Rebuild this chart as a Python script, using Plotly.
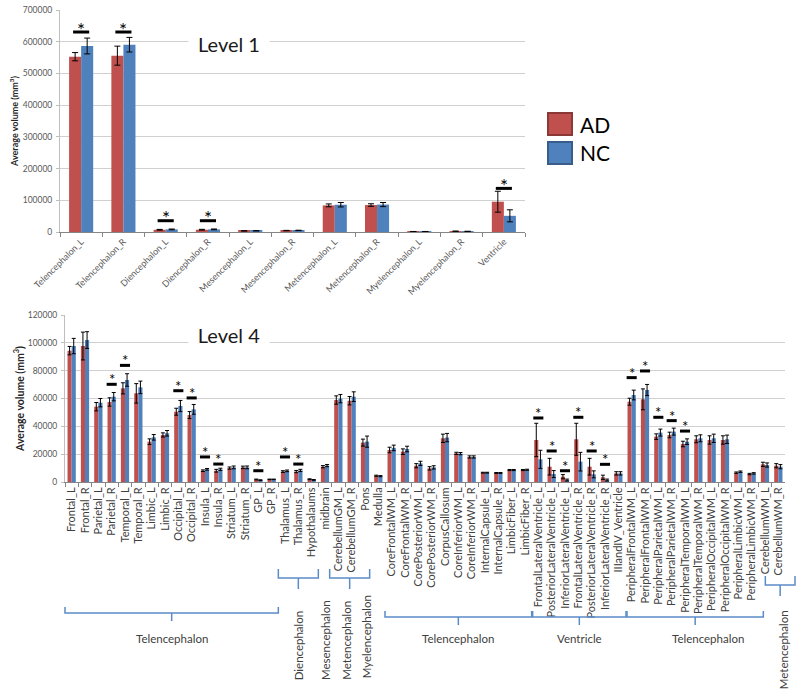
import plotly.graph_objects as go

W, H = 800, 697
FONT = "Lato"
RED = "#C0504D"
BLUE = "#4F81BD"

# ---------------- Level 1 data ----------------
l1_cats = ["Telencephalon_L", "Telencephalon_R", "Diencephalon_L", "Diencephalon_R",
           "Mesencephalon_L", "Mesencephalon_R", "Metencephalon_L", "Metencephalon_R",
           "Myelencephalon_L", "Myelencephalon_R", "Ventricle"]
l1_ad = [552700, 556000, 7000, 7200, 3500, 4500, 84000, 85000, 1500, 2500, 95500]
l1_ad_err = [13000, 30000, 1200, 1200, 400, 600, 4500, 4000, 200, 300, 33000]
l1_nc = [586500, 590600, 8200, 8300, 3800, 5000, 86000, 86500, 1500, 2000, 51000]
l1_nc_err = [25000, 23000, 1200, 1200, 400, 600, 7000, 6500, 200, 300, 19000]
l1_sig = [630600, 630600, 35600, 35600, None, None, None, None, None, None, 137500]

# ---------------- Level 4 data ----------------
l4_cats = ["Frontal_L", "Frontal_R", "Parietal_L", "Parietal_R", "Temporal_L", "Temporal_R",
           "Limbic_L", "Limbic_R", "Occipital_L", "Occipital_R", "Insula_L", "Insula_R",
           "Striatum_L", "Striatum_R", "GP_L", "GP_R", "Thalamus_L", "Thalamus_R",
           "Hypothalaums", "midbrain", "CerebellumGM_L", "CerebellumGM_R", "Pons", "Medulla",
           "CoreFrontalWM_L", "CoreFrontalWM_R", "CorePosteriorWM_L", "CorePosteriorWM_R",
           "CorpusCallosum", "CoreInferiorWM_L", "CoreInferiorWM_R", "InternalCapsule_L",
           "InternalCapsule_R", "LimbicFiber_L", "LimbicFiber_R", "FrontalLateralVentricle_L",
           "PosteriorLateralVentricle_L", "InferiorLateralVentricle_L",
           "FrontalLateralVentricle_R", "PosteriorLateralVentricle_R",
           "InferiorLateralVentricle_R", "IIIandIV_Ventricle", "PeripheralFrontalWM_L",
           "PeripheralFrontalWM_R", "PeripheralParietalWM_L", "PeripheralParietalWM_R",
           "PeripheralTemporalWM_L", "PeripheralTemporalWM_R", "PeripheralOccipitalWM_L",
           "PeripheralOccipitalWM_R", "PeripheralLimbicWM_L", "PeripheralLimbicWM_R",
           "CerebellumWM_L", "CerebellumWM_R"]
l4_ad = [94400, 97700, 54100, 57500, 67300, 63700, 29000, 33800, 50500, 48100, 8100, 8100,
         10000, 10500, 1800, 1900, 7500, 7500, 2000, 11000, 58900, 58400, 28300, 4500,
         23000, 21800, 11700, 9800, 31400, 20600, 18000, 6700, 6500, 8600, 8600, 30200,
         11000, 3800, 30700, 11000, 3400, 6200, 57700, 59400, 32600, 33800, 27300, 30700,
         30200, 30200, 6700, 5700, 12700, 11700]
l4_ad_err = [3000, 10000, 3000, 3000, 4000, 7000, 2000, 1500, 2500, 2500, 600, 1000,
             800, 900, 300, 200, 600, 800, 300, 800, 3000, 3000, 2500, 400,
             2000, 2000, 1500, 1200, 3000, 800, 800, 300, 300, 400, 400, 12000,
             6000, 1500, 11500, 6000, 1500, 1200, 2500, 7500, 2000, 2000, 2000, 2500,
             3000, 3000, 500, 500, 1500, 1500]
l4_nc = [97700, 102000, 57000, 61300, 73300, 68000, 32100, 35000, 54600, 52200, 9100, 9100,
         10500, 10500, 1300, 1900, 8000, 8300, 1500, 11800, 59900, 61300, 29000, 4200,
         24500, 23700, 13400, 10500, 31900, 20400, 18000, 6700, 6500, 8600, 8800, 16300,
         5700, 1400, 14600, 5500, 1400, 6200, 62500, 66100, 35500, 36200, 29000, 31400,
         31400, 30700, 7400, 6200, 12200, 11000]
l4_nc_err = [5500, 6000, 3000, 3000, 4500, 4500, 2000, 2000, 4000, 3500, 600, 800,
             1000, 1000, 300, 200, 600, 800, 300, 800, 3000, 3500, 4000, 400,
             2000, 2000, 1500, 1200, 3000, 800, 800, 300, 300, 400, 400, 6500,
             2500, 700, 6700, 2500, 700, 1200, 3500, 4000, 2500, 2500, 2000, 2500,
             3000, 3000, 500, 500, 1500, 1500]
l4_sig = [None, None, None, 70200, 83800, None, None, None, 65600, 60400, 18000, 12900,
          None, None, 8100, None, 18000, 12900, None, None, None, None, None, None,
          None, None, None, None, None, None, None, None, None, None, None, 46000,
          22300, 8100, 46500, 22300, 12700, None, 75000, 79800, 46500, 44100, 36600, None,
          None, None, None, None, None, None]

# region groups of the Level 4 axis: (label, first index, last index, kind)
groups = [("Telencephalon", 0, 15, "h"), ("Diencephalon", 16, 18, "v"),
          ("Mesencephalon", 19, 19, "t"), ("Metencephalon", 20, 22, "v"),
          ("Myelencephalon", 23, 23, "t"), ("Telencephalon", 24, 34, "h"),
          ("Ventricle", 35, 41, "h"), ("Telencephalon", 42, 51, "h"),
          ("Metencephalon", 52, 53, "v")]
# fine placement of the hand-drawn brackets (pixels)
grp_line_y = [613, 578, None, 578, None, 617, 617, 617, 585]
grp_dx0 = [0, 0, 0, -2, -6, 0, 1, 2, 7]
grp_dx1 = [0, 0, 0, -2, -6, 0, 1, 5, 10]
grp_label_dx = [0, 0, 0, -4, -6, 0, 0, 13, 3]
grp_label_y = [638, 645, 640, 640, 637, 638, 638, 638, 650]

# ---------------- geometry ----------------
X1D = [60 / W, 525 / W]
Y1D = [1 - 232 / H, 1 - 10 / H]
X2D = [65 / W, 785 / W]
Y2D = [1 - 482 / H, 1 - 315 / H]


def px(x):
    return x / W


def py(y):
    return 1 - y / H


def cat_px(idx, n, dom):
    return (dom[0] + (idx + 0.5) / n * (dom[1] - dom[0])) * W


fig = go.Figure()

err_style = dict(type="data", color="black", thickness=1)

# Level 1 bars
w1 = 0.285
fig.add_trace(go.Bar(x=l1_cats, y=l1_ad, name="AD", marker=dict(color=RED, line_width=0),
                     width=w1, offset=-w1, error_y=dict(array=l1_ad_err, width=3, **err_style),
                     xaxis="x", yaxis="y", showlegend=False))
fig.add_trace(go.Bar(x=l1_cats, y=l1_nc, name="NC", marker=dict(color=BLUE, line_width=0),
                     width=w1, offset=0, error_y=dict(array=l1_nc_err, width=3, **err_style),
                     xaxis="x", yaxis="y", showlegend=False))
fig.add_trace(go.Scatter(x=l1_cats, y=l1_sig, mode="markers", xaxis="x", yaxis="y",
                         marker=dict(symbol="line-ew", size=11.5,
                                     line=dict(width=3, color="black")),
                         showlegend=False, hoverinfo="skip"))

# Level 4 bars
w4 = 0.31
fig.add_trace(go.Bar(x=l4_cats, y=l4_ad, name="AD", marker=dict(color=RED, line_width=0),
                     width=w4, offset=-w4, error_y=dict(array=l4_ad_err, width=2, **err_style),
                     xaxis="x2", yaxis="y2", showlegend=False))
fig.add_trace(go.Bar(x=l4_cats, y=l4_nc, name="NC", marker=dict(color=BLUE, line_width=0),
                     width=w4, offset=0, error_y=dict(array=l4_nc_err, width=2, **err_style),
                     xaxis="x2", yaxis="y2", showlegend=False))
fig.add_trace(go.Scatter(x=l4_cats, y=l4_sig, mode="markers", xaxis="x2", yaxis="y2",
                         marker=dict(symbol="line-ew", size=7.2,
                                     line=dict(width=3, color="black")),
                         showlegend=False, hoverinfo="skip"))

annotations = []
shapes = []

# significance stars
for c, s in zip(l1_cats, l1_sig):
    if s is not None:
        annotations.append(dict(x=c, y=s, xref="x", yref="y", text="*", showarrow=False,
                                font=dict(family=FONT, size=19, color="black"),
                                xanchor="center", yanchor="middle", yshift=3))
for c, s in zip(l4_cats, l4_sig):
    if s is not None:
        annotations.append(dict(x=c, y=s, xref="x2", yref="y2", text="*", showarrow=False,
                                font=dict(family=FONT, size=15, color="black"),
                                xanchor="center", yanchor="middle", yshift=5))

# Level titles
for lab, yy in [("Level 1", 44), ("Level 4", 335)]:
    annotations.append(dict(x=px(229), y=py(yy), xref="paper", yref="paper", text=lab,
                            showarrow=False, xanchor="center", yanchor="middle",
                            font=dict(family=FONT, size=20, color="#1a1a1a"),
                            bgcolor="white", width=78, height=24))

# Legend (custom, large swatches)
for i, (nm, col, edge) in enumerate([("AD", RED, "#8C3836"), ("NC", BLUE, "#385D8A")]):
    y0 = 113 + i * 29
    shapes.append(dict(type="rect", xref="paper", yref="paper", x0=px(548), x1=px(572),
                       y0=py(y0), y1=py(y0 + 22), fillcolor=col,
                       line=dict(color=edge, width=2)))
    annotations.append(dict(x=px(578), y=py(y0 + 11), xref="paper", yref="paper", text=nm,
                            showarrow=False, xanchor="left", yanchor="middle",
                            font=dict(family=FONT, size=21, color="black")))

# Region brackets below the Level 4 axis
BR = "#5B8CC8"
n4 = len(l4_cats)
for k, (lab, a, b, kind) in enumerate(groups):
    x0 = cat_px(a - 0.5, n4, X2D) + grp_dx0[k]
    x1 = cat_px(b + 0.5, n4, X2D) + grp_dx1[k]
    xc = (x0 + x1) / 2
    if kind in ("h", "v"):
        yl = grp_line_y[k]
        up = 9 if kind == "v" else 6
        down = 11 if kind == "v" else 8
        path = (f"M {px(x0)},{py(yl - up)} L {px(x0)},{py(yl)} L {px(x1)},{py(yl)} "
                f"L {px(x1)},{py(yl - up)} M {px(xc)},{py(yl)} L {px(xc)},{py(yl + down)}")
        shapes.append(dict(type="path", xref="paper", yref="paper", path=path,
                           line=dict(color=BR, width=1.5)))
    lx = xc + grp_label_dx[k]
    annotations.append(dict(x=px(lx), y=py(grp_label_y[k]), xref="paper", yref="paper",
                            text=lab, showarrow=False, xanchor="center", yanchor="middle",
                            textangle=0 if kind == "h" else -90,
                            font=dict(family=FONT, size=11.5, color="#404040")))

axis_common = dict(showline=True, linecolor="#868686", linewidth=1, ticks="outside",
                   tickcolor="#868686", ticklen=4, tickson="boundaries", type="category",
                   showgrid=False, zeroline=False, automargin=False)
yaxis_common = dict(showgrid=True, gridcolor="#D0D0D0", gridwidth=1, zeroline=False,
                    showline=True, linecolor="#BFBFBF", ticks="outside", ticklen=3,
                    tickcolor="#BFBFBF", tickfont=dict(family=FONT, size=8.5, color="#595959"),
                    ticklabelstandoff=2, tickformat="d", automargin=False)

fig.update_layout(
    width=W, height=H, margin=dict(l=0, r=0, t=0, b=0, autoexpand=False),
    paper_bgcolor="white", plot_bgcolor="white",
    barmode="overlay", showlegend=False,
    font=dict(family=FONT),
    xaxis=dict(domain=X1D, anchor="y", range=[-0.5, len(l1_cats) - 0.5], tickangle=-45,
               tickmode="array", tickvals=l1_cats, ticktext=l1_cats,
               tickfont=dict(family=FONT, size=9, color="#595959"), **axis_common),
    yaxis=dict(domain=Y1D, anchor="x", range=[0, 700000], dtick=100000,
               title=dict(text="<b>Average volume (mm<sup>3</sup>)</b>", standoff=2,
                          font=dict(family=FONT, size=9, color="#262626")),
               **yaxis_common),
    xaxis2=dict(domain=X2D, anchor="y2", range=[-0.5, n4 - 0.5], tickangle=-90,
                tickmode="array", tickvals=l4_cats, ticktext=l4_cats,
                tickfont=dict(family=FONT, size=11, color="#404040"), **axis_common),
    yaxis2=dict(domain=Y2D, anchor="x2", range=[0, 120000], dtick=20000,
                title=dict(text="<b>Average volume (mm<sup>3</sup>)</b>", standoff=1,
                           font=dict(family=FONT, size=10.5, color="#262626")),
                **yaxis_common),
    annotations=annotations,
    shapes=shapes,
)

# the page's default 8px body margin would shift the whole figure
fig.write_html("out.html", config={"displayModeBar": False},
               post_script="document.body.style.margin='0px';")
